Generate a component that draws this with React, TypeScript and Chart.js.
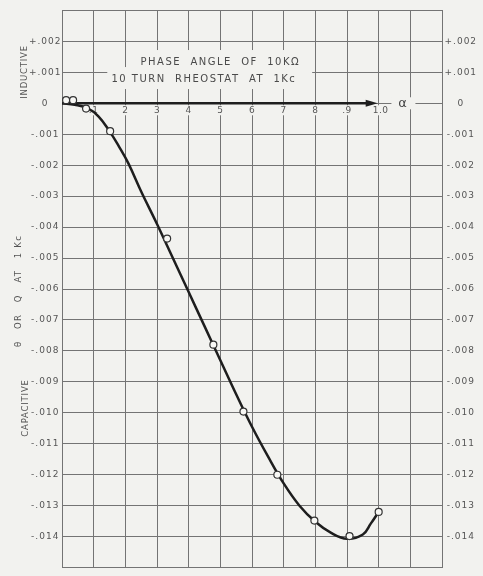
import React, { useEffect, useRef } from 'react';
import { Chart, registerables } from 'chart.js';

Chart.register(...registerables);

// ---- data ----
const curveAlpha = [0, 0.04, 0.08, 0.115, 0.15, 0.18, 0.21, 0.25, 0.3, 0.35, 0.4, 0.45, 0.5, 0.55, 0.6, 0.65, 0.7, 0.75, 0.8, 0.85, 0.9, 0.95, 0.975, 1.0];
const curveTheta = [0, -0.00005, -0.00016, -0.00042, -0.0009, -0.0014, -0.00195, -0.00285, -0.0039, -0.005, -0.0061, -0.0072, -0.0083, -0.0094, -0.01045, -0.0114, -0.01228, -0.013, -0.01352, -0.01388, -0.01407, -0.01393, -0.01358, -0.0132];

const pointAlpha = [0.013, 0.035, 0.076, 0.152, 0.332, 0.478, 0.573, 0.68, 0.797, 0.908, 1.0];
const pointTheta = [0.0001, 0.0001, -0.00017, -0.0009, -0.00437, -0.0078, -0.00996, -0.012, -0.01348, -0.01398, -0.0132];

const xTickValues = [0.1, 0.2, 0.3, 0.4, 0.5, 0.6, 0.7, 0.8, 0.9, 1.0];
const xTickLabels = ['.1', '2', '3', '4', '5', '6', '7', '8', '.9', '1.0'];

const yLabelTop = 2;     // thousandths
const yLabelBottom = -14;

const titleLines = ['PHASE  ANGLE  OF  10KΩ', '10 TURN  RHEOSTAT  AT  1Kc'];
const axisName = 'α';
const sideLabels = ['INDUCTIVE', 'θ   OR   Q   AT   1 Kc', 'CAPACITIVE'];

// ---- styles ----
const BG = '#f2f2ef';
const GRID = '#747474';
const TXT = '#555555';
const INK = '#1e1e1e';
const FONT = '"DejaVu Sans", sans-serif';

function fmt(v: number): string {
  const m = Math.round(v * 1000);
  if (m > yLabelTop || m < yLabelBottom) return '';
  if (m === 0) return '0';
  return (m > 0 ? '+' : '-') + '.' + String(Math.abs(m)).padStart(3, '0');
}

const decor = {
  id: 'decor',
  beforeDraw(chart: any) {
    const ctx = chart.ctx;
    ctx.save();
    ctx.fillStyle = BG;
    ctx.fillRect(0, 0, chart.width, chart.height);
    ctx.restore();
    ctx.letterSpacing = '1px';
  },
  beforeDatasetsDraw(chart: any) {
    const ctx = chart.ctx;
    const x = chart.scales.x;
    const y = chart.scales.y;
    ctx.save();
    ctx.letterSpacing = '0px';

    // title masks + text
    ctx.fillStyle = BG;
    ctx.fillRect(x.getPixelForValue(0.21), y.getPixelForValue(0.00172), x.getPixelForValue(0.79) - x.getPixelForValue(0.21), 18);
    ctx.fillRect(x.getPixelForValue(0.143), y.getPixelForValue(0.00117), x.getPixelForValue(0.79) - x.getPixelForValue(0.143), 22);

    ctx.fillStyle = '#4a4a4a';
    ctx.font = `10px ${FONT}`;
    ctx.textAlign = 'center';
    ctx.textBaseline = 'middle';
    ctx.letterSpacing = '1.5px';
    ctx.fillText(titleLines[0], x.getPixelForValue(0.5), y.getPixelForValue(0.00133));
    ctx.fillText(titleLines[1], x.getPixelForValue(0.448), y.getPixelForValue(0.00076));

    // x tick labels along the zero line
    ctx.font = `9px ${FONT}`;
    ctx.letterSpacing = '0.5px';
    const ly = y.getPixelForValue(0) + 7;
    xTickValues.forEach((v, i) => {
      const px = x.getPixelForValue(v) + (i === 9 ? 2 : 0);
      const w = ctx.measureText(xTickLabels[i]).width + 4;
      ctx.fillStyle = BG;
      ctx.fillRect(px - w / 2, ly - 5, w, 10);
      ctx.fillStyle = TXT;
      ctx.fillText(xTickLabels[i], px, ly);
    });

    // alpha label with mask
    const ax = x.getPixelForValue(1.075);
    const ay = y.getPixelForValue(0);
    ctx.fillStyle = BG;
    ctx.fillRect(ax - 11, ay - 6, 24, 12);
    ctx.fillStyle = '#444';
    ctx.font = `13px ${FONT}`;
    ctx.letterSpacing = '0px';
    ctx.fillText(axisName, ax, ay);

    // axis arrow
    const x0 = x.getPixelForValue(0);
    const x1 = x.getPixelForValue(1.0) - 1;
    ctx.strokeStyle = INK;
    ctx.lineWidth = 2.6;
    ctx.beginPath();
    ctx.moveTo(x0, ay);
    ctx.lineTo(x1 - 8, ay);
    ctx.stroke();
    ctx.fillStyle = INK;
    ctx.beginPath();
    ctx.moveTo(x1, ay);
    ctx.lineTo(x1 - 12, ay - 3.5);
    ctx.lineTo(x1 - 12, ay + 3.5);
    ctx.closePath();
    ctx.fill();

    // rotated side labels
    ctx.fillStyle = TXT;
    ctx.font = `8.5px ${FONT}`;
    const side = [
      [25, 72, '0.8px'],
      [19, 291, '1.2px'],
      [26, 408, '0.8px'],
    ];
    side.forEach(([sx, sy, ls], i) => {
      ctx.save();
      ctx.letterSpacing = ls as string;
      ctx.translate(sx as number, sy as number);
      ctx.rotate(-Math.PI / 2);
      ctx.fillText(sideLabels[i], 0, 0);
      ctx.restore();
    });

    ctx.restore();
  },
};

export default function App() {
  const ref = useRef<HTMLCanvasElement | null>(null);

  useEffect(() => {
    const canvas = ref.current;
    if (!canvas) return;
    const yTicks = {
      stepSize: 0.001,
      maxTicksLimit: 100,
      autoSkip: false,
      callback: (v: any) => fmt(Number(v)),
      color: TXT,
      font: { family: FONT, size: 9 },
      crossAlign: 'center' as const,
    };
    const chart = new Chart(canvas, {
      type: 'line',
      data: {
        datasets: [
          {
            type: 'scatter',
            data: pointAlpha.map((a, i) => ({ x: a, y: pointTheta[i] })),
            pointRadius: 3.5,
            pointBackgroundColor: '#f8f8f5',
            pointBorderColor: '#333',
            pointBorderWidth: 1.2,
            showLine: false,
            order: 0,
          } as any,
          {
            type: 'line',
            data: curveAlpha.map((a, i) => ({ x: a, y: curveTheta[i] })),
            borderColor: INK,
            borderWidth: 2.5,
            pointRadius: 0,
            tension: 0.4,
            fill: false,
            order: 1,
          } as any,
        ],
      },
      options: {
        responsive: false,
        animation: false,
        devicePixelRatio: 1,
        layout: { padding: { top: 6.6, bottom: 0.6, left: 0, right: 0 } },
        plugins: { legend: { display: false }, tooltip: { enabled: false } },
        scales: {
          x: {
            type: 'linear',
            min: 0,
            max: 1.2,
            ticks: { display: false, stepSize: 0.1, maxTicksLimit: 100 },
            grid: { color: GRID, lineWidth: 1, drawTicks: false },
            border: { display: false },
            afterFit: (s: any) => { s.height = 0; },
          },
          y: {
            type: 'linear',
            position: 'left',
            min: -0.015,
            max: 0.003,
            ticks: { ...yTicks, padding: 3 },
            grid: { color: GRID, lineWidth: 1, drawTicks: false },
            border: { color: GRID },
            afterFit: (s: any) => { s.width = 62; },
          },
          y2: {
            type: 'linear',
            position: 'right',
            min: -0.015,
            max: 0.003,
            ticks: { ...yTicks, padding: 5 },
            grid: { display: false, drawTicks: false },
            border: { color: GRID },
            afterFit: (s: any) => { s.width = 41; },
          },
        } as any,
      },
      plugins: [decor],
    });
    return () => chart.destroy();
  }, []);

  return (
    <div style={{ position: 'fixed', left: 0, top: 0, width: 483, height: 578, background: BG }}>
      <canvas ref={ref} width={483} height={578} style={{ width: 483, height: 578, display: 'block' }} />
    </div>
  );
}
